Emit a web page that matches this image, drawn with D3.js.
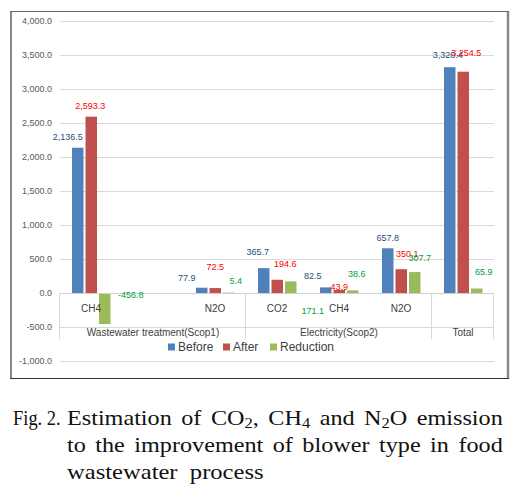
<!DOCTYPE html>
<html>
<head>
<meta charset="utf-8">
<script src="https://cdn.jsdelivr.net/npm/d3@7"></script>
<style>
  html, body { margin: 0; padding: 0; background: #fff; }
  svg { display: block; }
</style>
</head>
<body>
<svg id="chart" width="529" height="492"></svg>
<script>
// ---- data ----
const categories = ["CH4", "", "N2O", "CO2", "CH4", "N2O", ""];
const groups = ["Wastewater treatment(Scop1)", "Electricity(Scop2)", "Total"];
const groupSpans = [3, 3, 1];
const seriesNames = ["Before", "After", "Reduction"];
const before    = [2136.5, null, 77.9, 365.7, 82.5, 657.8, 3320.4];
const after     = [2593.3, null, 72.5, 194.6, 43.9, 350.1, 3254.5];
const reduction = [-456.8, null, 5.4, 171.1, 38.6, 307.7, 65.9];
const yTicks = [-1000, -500, 0, 500, 1000, 1500, 2000, 2500, 3000, 3500, 4000];

// ---- layout / style (label nudges reproduce the original label placement) ----
const labelNudge = [
  [[-10, -0.7], null, [-15, 0.3], [-6, -6], [-13, -1.4], [0, -0.3], [-2, -2]],
  [[-1, -0.7], null, [0, -11], [8, -6], [0, 7], [6, -5], [3, -8.7]],
  [[26, 12], null, [7, -1.6], [22, 39.6], [4, -7], [5, -4], [7, -6.5]]
];
const barColors = ["#4F81BD", "#C0504D", "#9BBB59"];
const labelColors = ["#1F4E79", "#FF0000", "#00A040"];
const font = "'Liberation Sans', Arial, sans-serif";

const svg = d3.select("#chart");
const values = [before, after, reduction];
const locale = d3.formatLocale({decimal: ".", thousands: ",", grouping: [3], currency: ["", ""], minus: "-"});
const fmt = locale.format(",.1f");

// frame
svg.append("line").attr("x1", 11).attr("x2", 11).attr("y1", 11).attr("y2", 378).attr("stroke", "#8a8a8a").attr("stroke-width", 2);
svg.append("line").attr("x1", 508).attr("x2", 508).attr("y1", 11).attr("y2", 379).attr("stroke", "#8a8a8a").attr("stroke-width", 2.5);
svg.append("line").attr("x1", 10).attr("x2", 509).attr("y1", 11.5).attr("y2", 11.5).attr("stroke", "#6a6a6a").attr("stroke-width", 1);
svg.append("line").attr("x1", 10).attr("x2", 509).attr("y1", 378.5).attr("y2", 378.5).attr("stroke", "#333").attr("stroke-width", 1.2);

const x0 = d3.scaleBand().domain(d3.range(categories.length)).range([60, 494]).padding(0);
const x1 = d3.scaleBand().domain(seriesNames).range([12, 50.5]).paddingInner(0.15).paddingOuter(0);
const y = d3.scaleLinear().domain([-1000, 4000]).range([361, 21]);

// gridlines
svg.append("g").selectAll("line").data(yTicks).join("line")
  .attr("x1", 60).attr("x2", 494)
  .attr("y1", d => Math.round(y(d)) + 0.5).attr("y2", d => Math.round(y(d)) + 0.5)
  .attr("stroke", "#d9d9d9").attr("stroke-width", 1);

// y axis labels
const yAxis = d3.axisLeft(y).tickValues(yTicks).tickFormat(fmt).tickSize(0).tickPadding(0);
const ya = svg.append("g").attr("transform", "translate(52,0)").call(yAxis);
ya.select(".domain").remove();
ya.selectAll("text").attr("font-family", font).attr("font-size", 9).attr("fill", "#595959");

// bars
seriesNames.forEach((s, si) => {
  const g = svg.append("g");
  g.selectAll("rect").data(values[si].map((v, i) => ({v, i})).filter(d => d.v !== null)).join("rect")
    .attr("x", d => x0(d.i) + x1(s))
    .attr("width", x1.bandwidth())
    .attr("y", d => y(Math.max(0, d.v)))
    .attr("height", d => Math.abs(y(d.v) - y(0)))
    .attr("fill", barColors[si]);
});

// zero line
svg.append("line").attr("x1", 60).attr("x2", 494).attr("y1", Math.round(y(0)) + 0.5).attr("y2", Math.round(y(0)) + 0.5)
  .attr("stroke", "#d0d0d0");

// category axis separators
const sepX = [0];
let acc = 0;
groupSpans.forEach(n => { acc += n; sepX.push(acc); });
svg.append("g").selectAll("line").data(sepX).join("line")
  .attr("x1", d => Math.round(x0.range()[0] + d * x0.step()) - 0.5)
  .attr("x2", d => Math.round(x0.range()[0] + d * x0.step()) - 0.5)
  .attr("y1", y(0)).attr("y2", 339)
  .attr("stroke", "#d9d9d9");

// category labels
svg.append("g").selectAll("text").data(categories.map((c, i) => ({c, i})).filter(d => d.c !== "")).join("text")
  .attr("x", d => x0(d.i) + x0.bandwidth() / 2)
  .attr("y", 308).attr("dy", "0.35em")
  .attr("text-anchor", "middle")
  .attr("font-family", font).attr("font-size", 10).attr("fill", "#404040")
  .text(d => d.c);

// group labels
let start = 0;
groups.forEach((gname, gi) => {
  const xs = x0.range()[0] + start * x0.step();
  const xe = xs + groupSpans[gi] * x0.step();
  svg.append("text").attr("x", (xs + xe) / 2).attr("y", 332).attr("dy", "0.35em")
    .attr("text-anchor", "middle").attr("font-family", font).attr("font-size", 10).attr("fill", "#404040")
    .text(gname);
  start += groupSpans[gi];
});

// data labels
seriesNames.forEach((s, si) => {
  values[si].forEach((v, i) => {
    if (v === null) return;
    const nd = labelNudge[si][i] || [0, 0];
    const cx = x0(i) + x1(s) + x1.bandwidth() / 2 + nd[0];
    const cy = y(Math.max(0, v)) - 10 + nd[1];
    svg.append("text").attr("x", cx).attr("y", cy).attr("dy", "0.35em")
      .attr("text-anchor", "middle").attr("font-family", font).attr("font-size", 9)
      .attr("fill", labelColors[si]).text(fmt(v));
  });
});

// legend
const legendX = [168, 223, 270];
const lg = svg.append("g");
seriesNames.forEach((s, si) => {
  lg.append("rect").attr("x", legendX[si]).attr("y", 343.5).attr("width", 7).attr("height", 7).attr("fill", barColors[si]);
  lg.append("text").attr("x", legendX[si] + 10).attr("y", 347).attr("dy", "0.35em")
    .attr("font-family", font).attr("font-size", 12).attr("fill", "#404040").text(s);
});

// caption: widened glyphs, justified lines filled with word spacing
const serif = "'Liberation Serif', 'Times New Roman', serif";
const cap = svg.append("g").attr("font-family", serif).attr("font-size", 20.5).attr("fill", "#111");
function capLine(x, yy, parts, width, sx) {
  const g = cap.append("g");
  const t = g.append("text").attr("x", 0).attr("y", 0).style("white-space", "pre");
  let sub = false;
  parts.forEach(p => {
    if (typeof p === "string") {
      const ts = t.append("tspan").text(p);
      if (sub) { ts.attr("dy", -3); sub = false; }
    } else {
      t.append("tspan").attr("font-size", 14).attr("dy", 3).text(p.sub);
      sub = true;
    }
  });
  if (width) {
    const w = t.node().getComputedTextLength();
    const spaces = (t.text().match(/ /g) || []).length;
    if (spaces > 0) t.attr("word-spacing", Math.max(0, (width / sx - w) / spaces));
  }
  g.attr("transform", `translate(${x},${yy}) scale(${sx},1)`);
}
capLine(13, 425, ["Fig. 2."], null, 0.9);
capLine(67, 425, ["Estimation of CO", {sub: "2"}, ", CH", {sub: "4"}, " and N", {sub: "2"}, "O emission"], 436, 1.18);
capLine(67, 452, ["to the improvement of blower type in food"], 436, 1.18);
capLine(67, 479, ["wastewater  process"], null, 1.2);
</script>
</body>
</html>
